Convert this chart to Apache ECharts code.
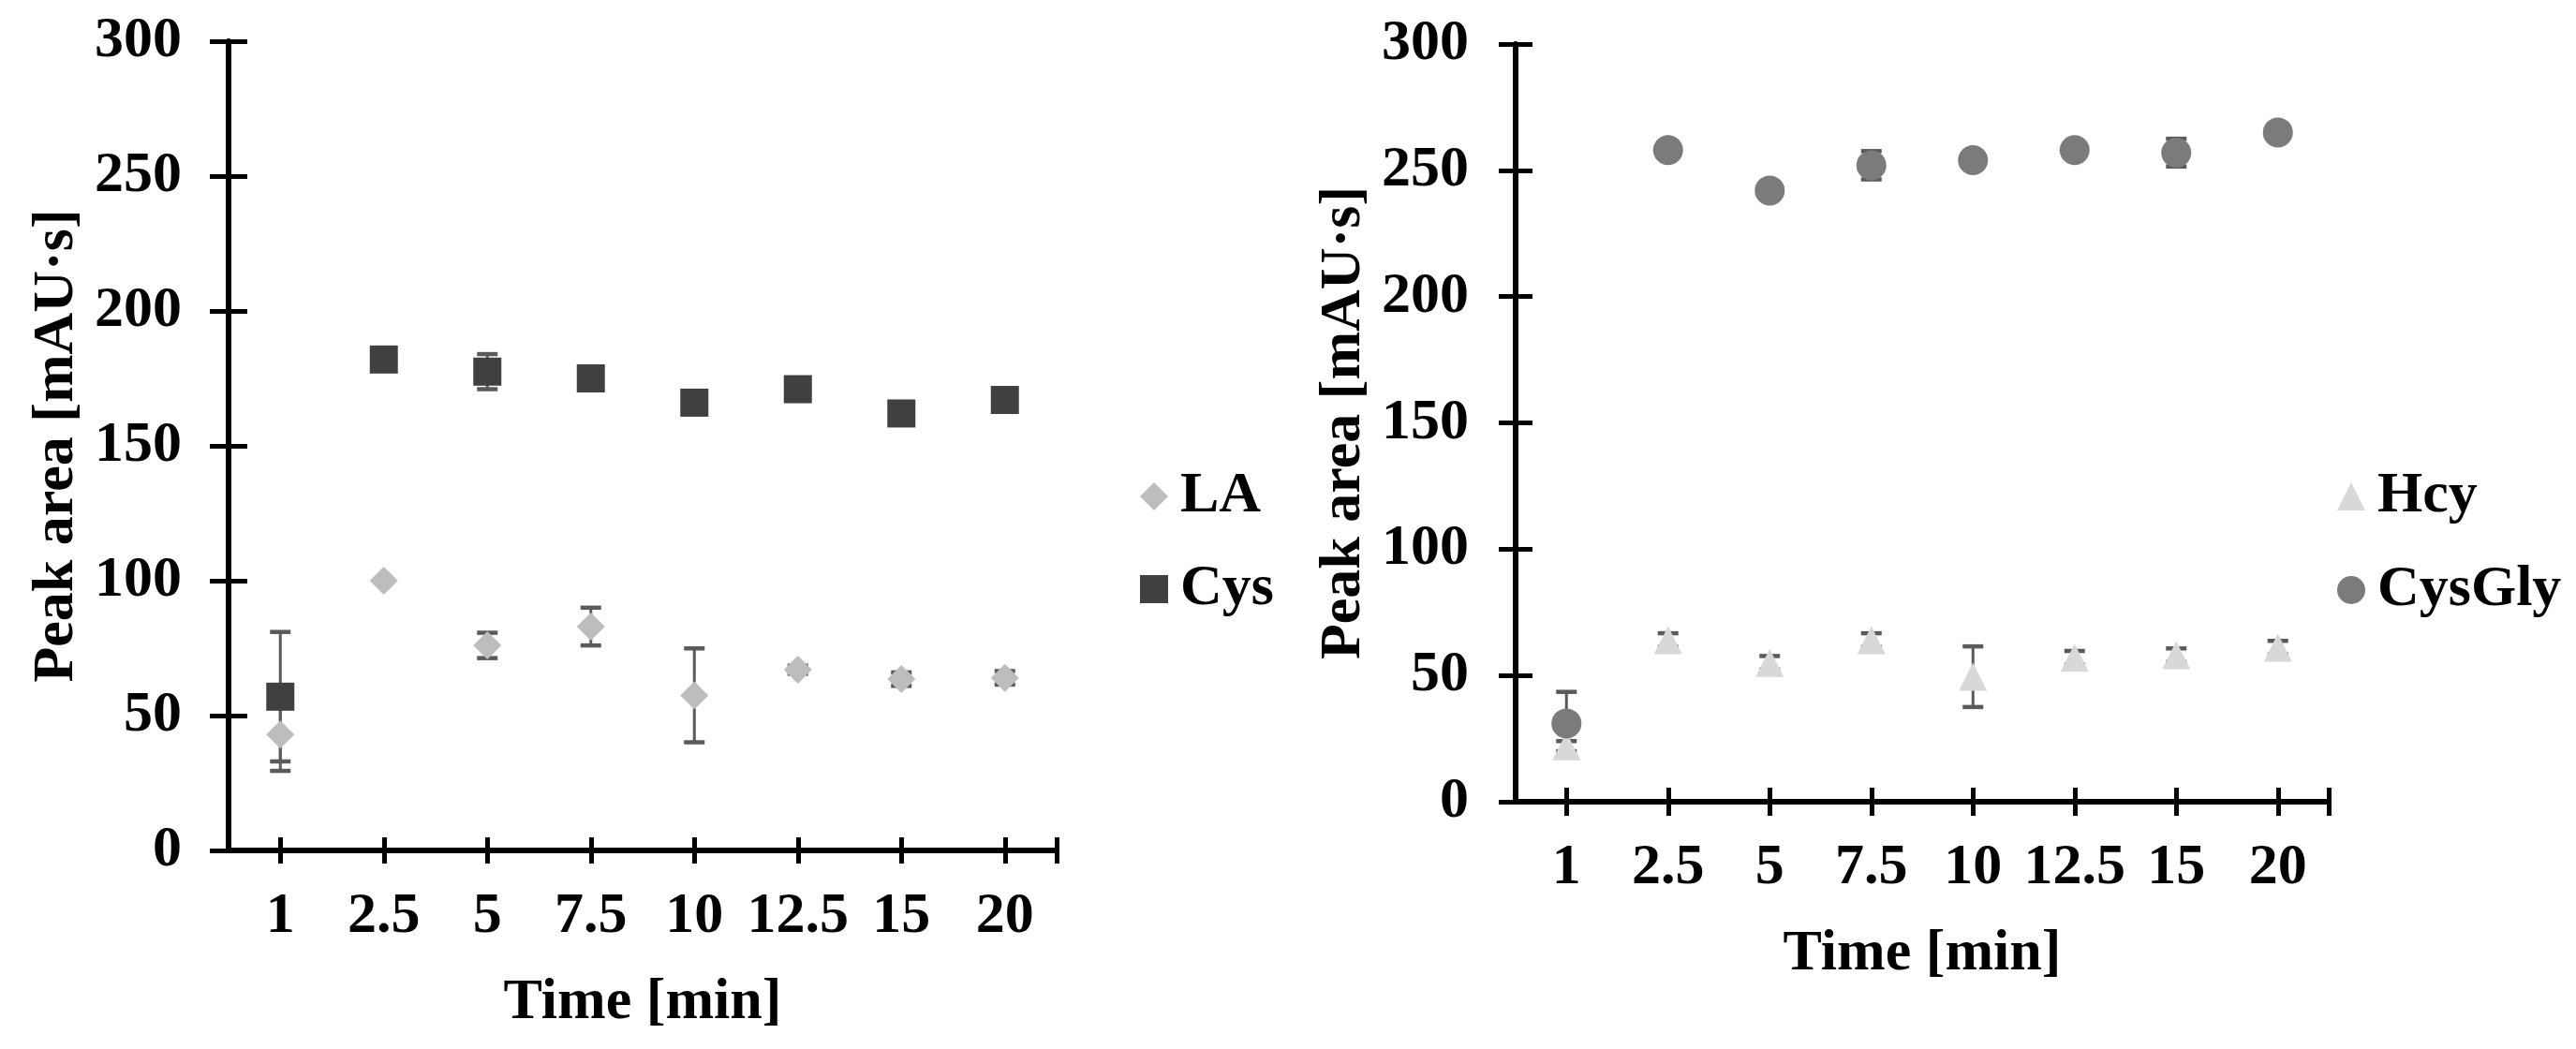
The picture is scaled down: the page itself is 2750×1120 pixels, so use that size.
<!DOCTYPE html>
<html><head><meta charset="utf-8">
<script src="https://cdn.jsdelivr.net/npm/echarts@6/dist/echarts.min.js"></script>
<style>html,body{margin:0;padding:0;background:#fff}#c{width:2750px;height:1120px}</style>
</head><body><div id="c"></div>
<script>
// ---- data ----
const timeLabels = ['1', '2.5', '5', '7.5', '10', '12.5', '15', '20'];
const yTickStep = 50;
const yMax = 300;
const laMean = [43, 100, 76, 83, 57.5, 67, 63.5, 64];
const laErr = [13.5, 0.5, 4.7, 7, 17.4, 1.5, 2.5, 2.5];
const cysMean = [57, 182, 177.5, 175, 166, 171, 162, 167];
const cysErr = [24, 2, 6.5, 2, 2, 2, 2, 2];
const hcyMean = [22, 64, 55, 64, 49.5, 57, 58, 61];
const hcyErr = [2, 2.7, 2.7, 2.7, 12, 2.7, 2.7, 2.7];
const cysGlyMean = [31, 258, 242, 252, 254, 258, 257, 265];
const cysGlyErr = [12.5, 2, 2, 5.6, 2, 2, 5.5, 2];

const FONT = '"Liberation Serif", "Times New Roman", "DejaVu Serif", serif';
const idx = timeLabels.map((_, i) => i);
const tickVals = idx.concat([timeLabels.length - 0.5]);

function errSeries(mean, err, xi, yi, color) {
  return {
    type: 'custom', xAxisIndex: xi, yAxisIndex: yi, silent: true,
    data: mean.map((m, i) => [i, m - err[i], m + err[i]]),
    renderItem: function (params, api) {
      const lo = api.coord([api.value(0), api.value(1)]);
      const hi = api.coord([api.value(0), api.value(2)]);
      const hw = 11;
      return {
        type: 'group', children: [
          { type: 'line', shape: { x1: lo[0], y1: lo[1], x2: hi[0], y2: hi[1] }, style: { stroke: color, lineWidth: 3 } },
          { type: 'line', shape: { x1: lo[0] - hw, y1: lo[1], x2: lo[0] + hw, y2: lo[1] }, style: { stroke: color, lineWidth: 4.5 } },
          { type: 'line', shape: { x1: hi[0] - hw, y1: hi[1], x2: hi[0] + hw, y2: hi[1] }, style: { stroke: color, lineWidth: 4.5 } }
        ]
      };
    }
  };
}
function scatter(name, mean, xi, yi, symbol, size, color) {
  return {
    name: name, type: 'scatter', xAxisIndex: xi, yAxisIndex: yi,
    symbol: symbol, symbolSize: size, itemStyle: { color: color, opacity: 1 },
    data: mean.map((m, i) => [i, m])
  };
}
function xAxes(g, tickLen) {
  const base = {
    type: 'value', gridIndex: g, position: 'bottom', offset: 0,
    min: -0.5, max: timeLabels.length - 0.5, splitLine: { show: false }
  };
  return [
    Object.assign({}, base, {
      axisLine: { show: true, onZero: false, lineStyle: { color: '#000', width: 6 } },
      axisTick: { show: true, inside: false, length: tickLen, customValues: tickVals, lineStyle: { color: '#000', width: 5 } },
      axisLabel: {
        show: true, customValues: idx, margin: 40, formatter: v => timeLabels[Math.round(v)],
        fontFamily: FONT, fontWeight: 'bold', fontSize: 62, color: '#000'
      },
      name: 'Time [min]', nameLocation: 'middle', nameGap: 132,
      nameTextStyle: { fontFamily: FONT, fontWeight: 'bold', fontSize: 62, color: '#000' }
    }),
    Object.assign({}, base, {
      axisLine: { show: false, onZero: false },
      axisTick: { show: true, inside: true, length: tickLen, customValues: tickVals, lineStyle: { color: '#000', width: 5 } },
      axisLabel: { show: false }
    })
  ];
}
function yAxes(g, tickLen) {
  const base = {
    type: 'value', gridIndex: g, position: 'left', offset: 0,
    min: 0, max: yMax, interval: yTickStep, splitLine: { show: false }
  };
  return [
    Object.assign({}, base, {
      axisLine: { show: true, onZero: false, lineStyle: { color: '#000', width: 6 } },
      axisTick: { show: true, inside: false, length: tickLen, lineStyle: { color: '#000', width: 5 } },
      axisLabel: { show: true, margin: 50, fontFamily: FONT, fontWeight: 'bold', fontSize: 62, color: '#000' },
      name: 'Peak area [mAU\u00B7s]', nameLocation: 'middle', nameGap: 152,
      nameTextStyle: { fontFamily: FONT, fontWeight: 'bold', fontSize: 62, color: '#000' }
    }),
    Object.assign({}, base, {
      axisLine: { show: false, onZero: false },
      axisTick: { show: true, inside: true, length: tickLen, lineStyle: { color: '#000', width: 5 } },
      axisLabel: { show: false }
    })
  ];
}
const legendText = { fontFamily: FONT, fontWeight: 'bold', fontSize: 62, lineHeight: 62, color: '#000', padding: [0, 0, 0, 8] };

const ERR = '#5a5a5a';
const option = {
  animation: false,
  backgroundColor: '#fff',
  grid: [
    { left: 244, top: 44, width: 884, height: 864 },
    { left: 1618, top: 47, width: 868, height: 809 }
  ],
  xAxis: xAxes(0, 14).concat(xAxes(1, 15)),
  yAxis: yAxes(0, 20).concat(yAxes(1, 18)),
  legend: [
    {
      data: [{ name: 'LA', icon: 'diamond' }, { name: 'Cys', icon: 'rect' }],
      orient: 'vertical', left: 1212, top: 494, itemWidth: 30, itemHeight: 30, itemGap: 37,
      selectedMode: false, textStyle: legendText
    },
    {
      data: [{ name: 'Hcy', icon: 'triangle' }, { name: 'CysGly', icon: 'circle' }],
      orient: 'vertical', left: 2490, top: 494, itemWidth: 30, itemHeight: 30, itemGap: 38,
      selectedMode: false, textStyle: legendText
    }
  ],
  series: [
    errSeries(laMean, laErr, 0, 0, ERR),
    scatter('LA', laMean, 0, 0, 'diamond', 30, '#bdbdbd'),
    errSeries(cysMean, cysErr, 0, 0, ERR),
    scatter('Cys', cysMean, 0, 0, 'rect', 30, '#404040'),
    errSeries(hcyMean, hcyErr, 2, 2, ERR),
    scatter('Hcy', hcyMean, 2, 2, 'triangle', 30, '#d8d8d8'),
    errSeries(cysGlyMean, cysGlyErr, 2, 2, ERR),
    scatter('CysGly', cysGlyMean, 2, 2, 'circle', 32, '#7b7b7b')
  ]
};
const chart = echarts.init(document.getElementById('c'), null, { renderer: 'canvas' });
chart.setOption(option);
</script>
</body></html>
